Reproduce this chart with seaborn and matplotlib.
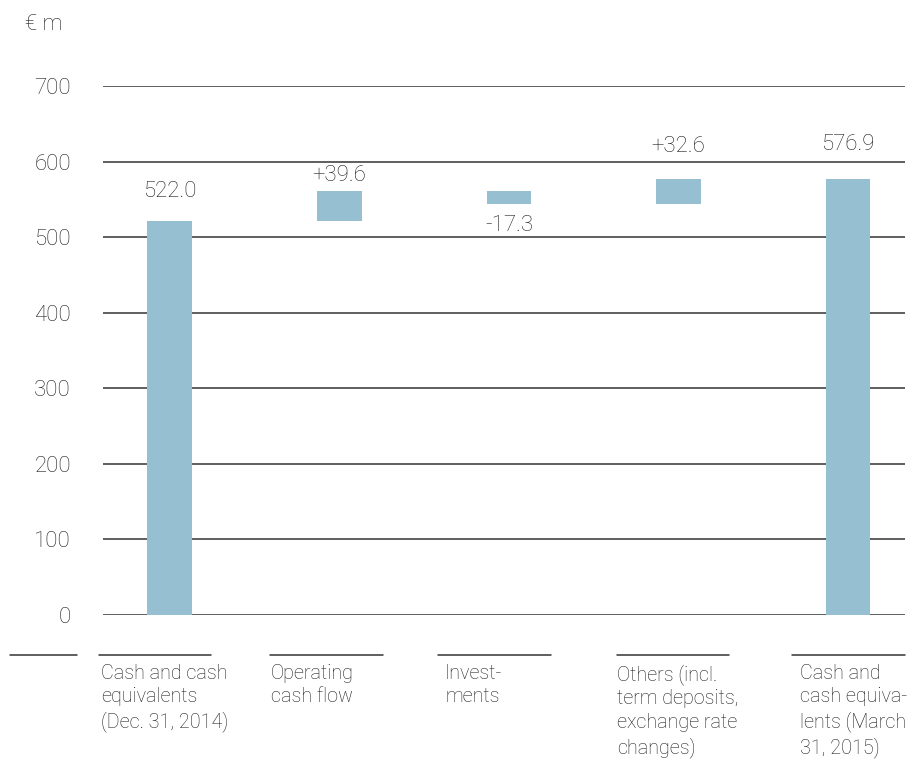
import numpy as np
import pandas as pd
import matplotlib.pyplot as plt
import seaborn as sns

sns.set_theme(style="white")
plt.rcParams["font.family"] = ["Roboto", "DejaVu Sans"]
plt.rcParams["font.weight"] = "light"

# --- data ---
steps = ["start", "operating", "investments", "others", "end"]
changes = [522.0, 39.6, -17.3, 32.6, 576.9]
value_labels = ["522.0", "+39.6", "-17.3", "+32.6", "576.9"]
cat_labels = [
    "Cash and cash\nequivalents\n(Dec. 31, 2014)",
    "Operating\ncash flow",
    "Invest-\nments",
    "Others (incl.\nterm deposits,\nexchange rate\nchanges)",
    "Cash and\ncash equiva-\nlents (March\n31, 2015)",
]
y_ticks = [0, 100, 200, 300, 400, 500, 600, 700]

# waterfall: base and height of each floating bar
bases, heights = [], []
level = 0.0
for i, c in enumerate(changes):
    if i == 0 or i == len(changes) - 1:
        bases.append(0.0)
        heights.append(c)
        level = c
    else:
        lo = min(level, level + c)
        bases.append(lo)
        heights.append(abs(c))
        level += c
df = pd.DataFrame({"step": steps, "height": heights, "base": bases})

bar_col = "#96bfd1"
txt_col = "#1e1e1e"
line_col = "#333333"

fig = plt.figure(figsize=(9.21, 7.6), dpi=100)
ax = fig.add_axes([0.1118, 0.1908, 0.8708, 0.696])

sns.barplot(data=df, x="step", y="height", bottom=df["base"].values,
            color=bar_col, width=0.265, saturation=1, linewidth=0,
            ax=ax, zorder=3)

ax.set_xlim(-0.395, 4.336)
ax.set_ylim(0, 700)
for t in y_ticks:
    ax.axhline(t, color=line_col, lw=1.1, zorder=1)
ax.set_yticks(y_ticks)
ax.set_yticklabels([str(t) for t in y_ticks], fontsize=16, color=txt_col,
                   fontweight="light")
ax.tick_params(axis="y", length=0, pad=23)
ax.set_xticks([])
ax.set_xlabel("")
ax.set_ylabel("")
for s in ax.spines.values():
    s.set_visible(False)

# value labels
for i, (b, h, lab) in enumerate(zip(bases, heights, value_labels)):
    if changes[i] < 0:
        ax.annotate(lab, (i, b), xytext=(0, -8), textcoords="offset points",
                    ha="center", va="top", fontsize=16, color=txt_col)
    else:
        off = {0: 13, 1: 3, 3: 16, 4: 17}[i]
        ax.annotate(lab, (i, b + h), xytext=(0, off), textcoords="offset points",
                    ha="center", va="bottom", fontsize=16, color=txt_col)

fig.text(25 / 921, 1 - 25 / 760, "€ m", fontsize=16, color=txt_col, va="center")

# separator segments and category labels below the chart
seg_px = [(10, 77), (99, 211), (270, 383), (438, 551), (617, 729), (792, 905)]
for x0, x1 in seg_px:
    fig.add_artist(plt.Line2D([x0 / 921, x1 / 921], [1 - 655 / 760] * 2,
                              color=line_col, lw=1.1))
lab_px = [101, 271, 445, 617, 800]
for xp, lab in zip(lab_px, cat_labels):
    fig.text(xp / 921, 1 - 664 / 760, lab, fontsize=14.2, color=txt_col,
             ha="left", va="top", linespacing=1.3)

fig.savefig("out.png", dpi=100)
